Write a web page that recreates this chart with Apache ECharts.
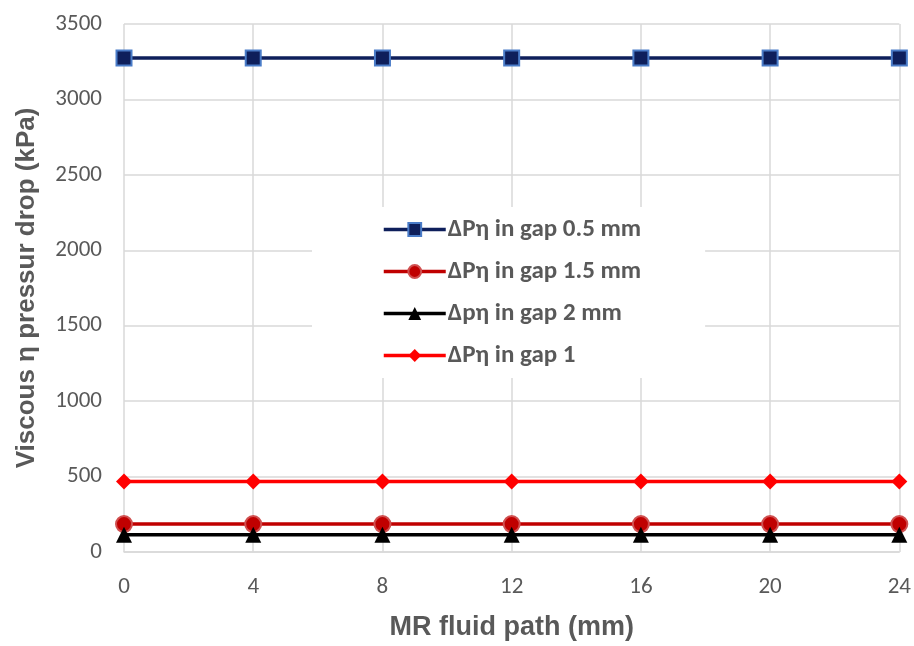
<!DOCTYPE html>
<html><head><meta charset="utf-8">
<script src="https://cdn.jsdelivr.net/npm/echarts@6/dist/echarts.min.js"></script>
<style>html,body{margin:0;padding:0;background:#fff}#c{width:914px;height:646px}</style>
</head><body><div id="c"></div>
<script>
const xValues = [0, 4, 8, 12, 16, 20, 24];
const seriesNames = ['ΔPη in gap 0.5 mm', 'ΔPη in gap 1.5 mm', 'Δpη in gap 2 mm', 'ΔPη in gap 1'];
const gap05 = [3275, 3275, 3275, 3275, 3275, 3275, 3275];
const gap15 = [185, 185, 185, 185, 185, 185, 185];
const gap2 = [115, 115, 115, 115, 115, 115, 115];
const gap1 = [468, 468, 468, 468, 468, 468, 468];

const pair = arr => arr.map((v, i) => [xValues[i], v]);
const chart = echarts.init(document.getElementById('c'));
const font = 'Calibri, Carlito, "Liberation Sans", Arial, sans-serif';
const titleFont = 'Arial, "Liberation Sans", sans-serif';
chart.setOption({
  animation: false,
  backgroundColor: '#fff',
  grid: {left: 124, right: 14, top: 24, bottom: 91},
  legend: {
    orient: 'vertical', left: 312, top: 207,
    backgroundColor: '#fff', padding: [10, 64, 10, 70],
    itemWidth: 62, itemHeight: 16, itemGap: 17,
    lineStyle: {width: 3.5},
    textStyle: {fontFamily: font, fontSize: 25, fontWeight: 'bold', color: '#595959', padding: [0, 0, 0, -3]},
    data: seriesNames
  },
  xAxis: {
    type: 'value', min: 0, max: 24, interval: 4,
    name: 'MR fluid path (mm)', nameLocation: 'middle', nameGap: 62,
    nameTextStyle: {fontFamily: titleFont, fontSize: 27, fontWeight: 'bold', color: '#595959'},
    axisLine: {show: true, lineStyle: {color: '#d9d9d9', width: 1.5}},
    axisTick: {show: false},
    axisLabel: {fontFamily: font, fontSize: 23, color: '#595959', margin: 24},
    splitLine: {show: true, lineStyle: {color: '#d9d9d9', width: 1.5}}
  },
  yAxis: {
    type: 'value', min: 0, max: 3500, interval: 500,
    name: 'Viscous η pressur drop (kPa)', nameLocation: 'middle', nameGap: 84,
    nameTextStyle: {fontFamily: titleFont, fontSize: 26, fontWeight: 'bold', color: '#595959'},
    axisLine: {show: false}, axisTick: {show: false},
    axisLabel: {fontFamily: font, fontSize: 23, color: '#595959', margin: 22, formatter: v => String(v)},
    splitLine: {show: true, lineStyle: {color: '#d9d9d9', width: 1.5}}
  },
  series: [
    {name: seriesNames[0], type: 'line', data: pair(gap05), symbol: 'rect', symbolSize: 15,
      lineStyle: {color: '#0e1f5b', width: 3.5},
      itemStyle: {color: '#0e1f5b', borderColor: '#4a7cc8', borderWidth: 2}},
    {name: seriesNames[1], type: 'line', data: pair(gap15), symbol: 'circle', symbolSize: 16,
      lineStyle: {color: '#c00000', width: 3.5},
      itemStyle: {color: '#c00000', borderColor: '#d05050', borderWidth: 2}},
    {name: seriesNames[2], type: 'line', data: pair(gap2), symbol: 'triangle', symbolSize: 16,
      lineStyle: {color: '#000000', width: 3.5},
      itemStyle: {color: '#000000'}},
    {name: seriesNames[3], type: 'line', data: pair(gap1), symbol: 'diamond', symbolSize: 16,
      lineStyle: {color: '#ff0000', width: 3.5},
      itemStyle: {color: '#ff0000'}}
  ]
});
</script></body></html>
